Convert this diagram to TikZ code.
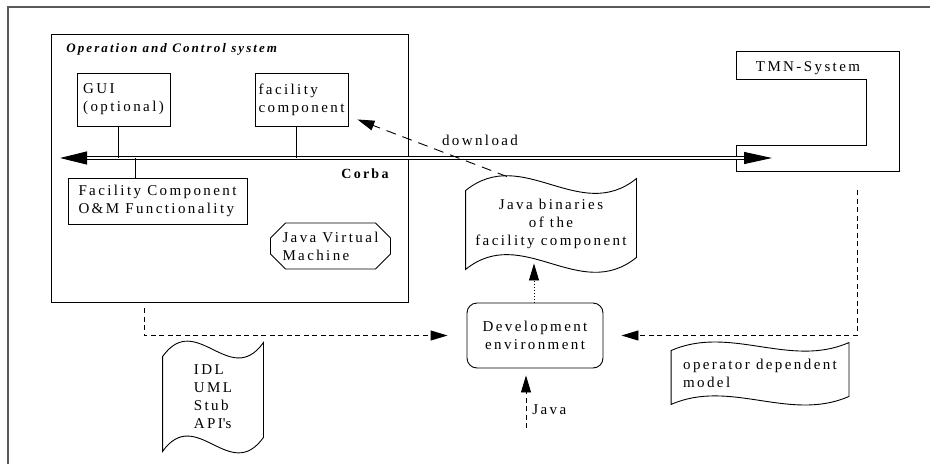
\documentclass[tikz,border=0pt]{standalone}
\usepackage{fontspec}
\setmainfont{Liberation Serif}[LetterSpace=16]
\usetikzlibrary{arrows.meta,calc,shapes.misc}

% wavy sheet round a node: node, corner offset, bend
\newcommand{\docwave}[3]{%
  \draw ($(#1.north west)+(0,#2)$)
    .. controls ($(#1.north west)!1/3!(#1.north east)+(0,-#3)$) and ($(#1.north west)!2/3!(#1.north east)+(0,#3)$) .. ($(#1.north east)+(0,-#2)$)
    -- ($(#1.south east)+(0,-#2)$)
    .. controls ($(#1.south west)!2/3!(#1.south east)+(0,#3)$) and ($(#1.south west)!1/3!(#1.south east)+(0,-#3)$) .. ($(#1.south west)+(0,#2)$)
    -- cycle;}

\begin{document}
\begin{tikzpicture}[x=1pt,y=-1pt,line width=0.9pt,
    every node/.style={font=\fontsize{15}{18}\selectfont,inner sep=0pt},
    box/.style={draw,rectangle,align=left},
    arr/.style={-{Triangle[length=17pt,width=10pt]}},
    dashline/.style={dash pattern=on 5pt off 3.5pt}]
        \useasboundingbox (0,0) rectangle (930,464);
        \draw[gray!70!black,line width=2pt] (930,7) -- (8,7) -- (8,464);

        \node[box,minimum width=357pt,minimum height=268pt] (ocs) at (229.5,168) {};
        \node[anchor=west,font=\fontsize{13}{15}\selectfont\bfseries\itshape] (ocstitle) at (66,49) {Operation and Control system};
        \node[box,minimum width=93pt,minimum height=53pt] (gui) at (123.5,99.5) {GUI\\(optional)};
        \node[box,minimum width=93pt,minimum height=53pt] (fac) at (301.5,99.5) {facility\\component};
        \node[box,minimum width=179pt,minimum height=46pt] (fcom) at (157.5,201) {Facility Component\\O\&M Functionality};
        \node[draw,chamfered rectangle,chamfered rectangle xsep=12pt,minimum width=119pt,minimum height=46pt,align=left] (jvm) at (330.5,246) {Java Virtual\\Machine};
        \node[font=\fontsize{14}{16}\selectfont\bfseries] (corba) at (365,174) {Corba};
        \node (dl) at (480,140) {download};

        \node[minimum width=162pt,minimum height=119pt] (tmn) at (818,111.5) {};
        \node (tmnname) at (808,68) {TMN-System};
        \draw (tmn.north west) -- (tmn.north east) -- (tmn.south east) -- (tmn.south west)
            -- ++(0,-26) -- ++(130,0) -- ++(0,-66) -- ++(-130,0) -- cycle;

        \node[minimum width=170pt,minimum height=78pt,align=center] (bin) at (551,224) {Java binaries\\of the\\facility component};
        \node[draw,rounded corners=10pt,minimum width=136pt,minimum height=65pt,align=center] (dev) at (535,335.5) {Development\\environment};
        \node[minimum width=100pt,minimum height=94pt,align=left] (idl) at (213,397) {IDL\\UML\\Stub\\API\textquotesingle s};
        \node[minimum width=177pt,minimum height=53pt,align=left] (opm) at (760,373.5) {operator dependent\\model};
        \docwave{bin}{6}{40}
        \docwave{idl}{7}{40}
        \docwave{opm}{4}{22}

	% corba bus
        \coordinate (busl) at (60,158);
        \coordinate (busr) at (772,158);
        \coordinate (javasrc) at (526,428);
	\draw[{Triangle[length=27pt,width=13pt]}-{Triangle[length=28pt,width=12pt]},line width=1pt,double,double distance=1.6pt] (busl) -- (busr);
	\draw ([xshift=-5.5pt]gui.south) -- ([xshift=-5.5pt]gui.south |- busl);
	\draw ([xshift=-5.5pt]fac.south) -- ([xshift=-5.5pt]fac.south |- busl);
	\draw ([xshift=-22.5pt]fcom.north) -- ([xshift=-22.5pt]fcom.north |- busl);

	\draw[arr,dash pattern=on 10pt off 7pt] ([xshift=-44pt,yshift=8pt]bin.north) -- ([xshift=9pt,yshift=7pt]fac.south east);
	\draw[arr,dotted] ([xshift=-1pt]dev.north) -- ([xshift=-1pt]dev.north |- bin.south);
	\draw[arr,dashline,shorten >=7pt] (javasrc) -- (javasrc |- dev.south) node[pos=0.3,right=6pt] (javalbl) {Java};
	\draw[arr,dashline] ([xshift=-85.5pt,yshift=-6pt]ocs.south) |- ([xshift=-19pt]dev.west);
	\draw[arr,dashline] ([xshift=39pt,yshift=-19pt]tmn.south) |- ([xshift=18pt]dev.east);
\end{tikzpicture}
\end{document}
